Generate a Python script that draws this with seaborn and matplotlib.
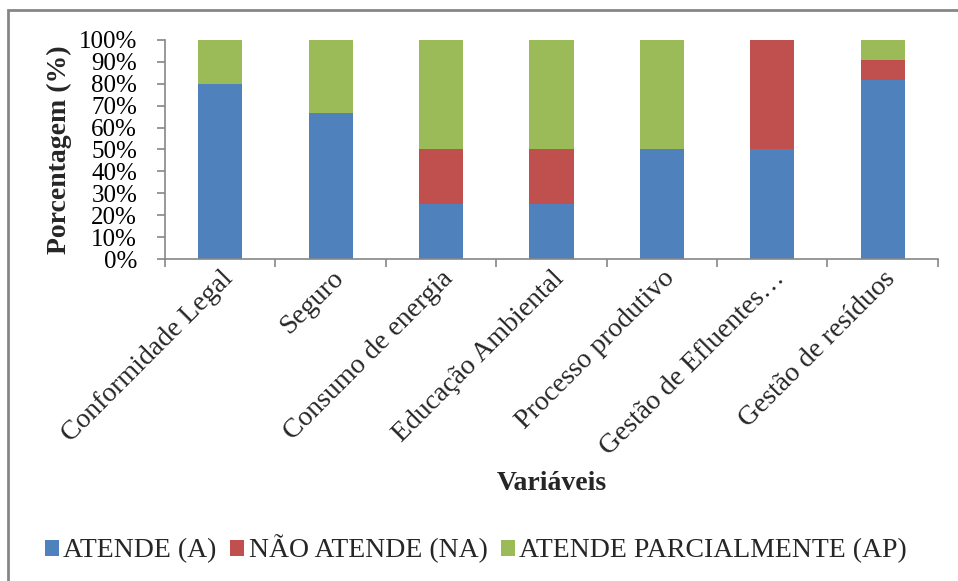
import matplotlib
matplotlib.use("Agg")
import matplotlib.pyplot as plt
from matplotlib.patches import Rectangle, Patch
from matplotlib.ticker import FixedLocator, FuncFormatter
import numpy as np
import pandas as pd
import seaborn as sns

categorias = ["Conformidade Legal", "Seguro", "Consumo de energia",
              "Educação Ambiental", "Processo produtivo",
              "Gestão de Efluentes…", "Gestão de resíduos"]
atende = [80.0, 66.7, 25.0, 25.0, 50.0, 50.0, 81.8]
nao_atende = [0.0, 0.0, 25.0, 25.0, 0.0, 50.0, 9.1]
atende_parcial = [20.0, 33.3, 50.0, 50.0, 50.0, 0.0, 9.1]
series = ["ATENDE (A)", "NÃO ATENDE (NA)", "ATENDE PARCIALMENTE (AP)"]
cores = ["#4F81BD", "#C0504D", "#9BBB59"]

sns.set_theme(style="white")
plt.rcParams["font.family"] = ["Liberation Serif", "DejaVu Serif"]

df = pd.DataFrame({"cat": categorias, "A": atende, "NA": nao_atende,
                   "AP": atende_parcial})
df["topo_NA"] = df["A"] + df["NA"]
df["topo_AP"] = df["topo_NA"] + df["AP"]

fig = plt.figure(figsize=(9.58, 5.81), dpi=100)
ax = fig.add_axes([0.1722, 0.5542, 0.8068, 0.377])

# stacked bars: draw cumulative totals from the top segment down
for col, cor in zip(["topo_AP", "topo_NA", "A"], cores[::-1]):
    sns.barplot(data=df, x="cat", y=col, color=cor, width=0.4,
                saturation=1, ax=ax, edgecolor="none", linewidth=0)

ax.set_ylim(0, 100)
ax.set_xlim(-0.5, len(categorias) - 0.5)
ax.yaxis.set_major_locator(FixedLocator(np.arange(0, 101, 10)))
ax.yaxis.set_major_formatter(FuncFormatter(lambda v, p: f"{int(v)}%"))

for s in ["top", "right"]:
    ax.spines[s].set_visible(False)
for s in ["left", "bottom"]:
    ax.spines[s].set_color("#868686")
    ax.spines[s].set_linewidth(1.2)

ax.tick_params(axis="y", which="major", direction="out", length=6,
               width=1.2, color="#868686", labelsize=18, pad=14,
               left=True, labelcolor="black")
ax.set_xticks(range(len(categorias)))
ax.set_xticklabels(categorias, rotation=45, ha="right",
                   rotation_mode="anchor", fontsize=20)
ax.tick_params(axis="x", which="major", length=0, pad=5)
ax.xaxis.set_minor_locator(FixedLocator(np.arange(-0.5, len(categorias), 1)))
ax.tick_params(axis="x", which="minor", direction="out", length=6,
               width=1.2, color="#868686", bottom=True)

ax.set_xlabel("Variáveis", fontsize=20, fontweight="bold")
ax.xaxis.set_label_coords(0.5, -0.97)
ax.set_ylabel("Porcentagem (%)", fontsize=20, fontweight="bold")
ax.yaxis.set_label_coords(-0.12, 0.5)

handles = [Patch(facecolor=c, edgecolor="none") for c in cores]
fig.legend(handles, series, loc="center", bbox_to_anchor=(0.497, 0.055),
           ncol=3, frameon=False, fontsize=20, handlelength=0.5,
           handleheight=0.5, handletextpad=0.15, columnspacing=0.5)

# outer chart border
fig.patches.append(Rectangle((8 / 958, -0.05), 1.0, 1 - 10 / 581 + 0.05,
                             transform=fig.transFigure, fill=False,
                             edgecolor="#868686", linewidth=2))

fig.savefig("out.png", dpi=100)
